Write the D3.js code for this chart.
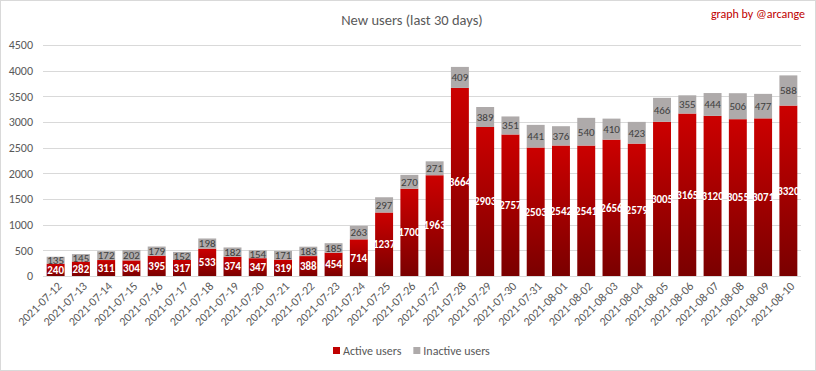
<!DOCTYPE html>
<html>
<head>
<meta charset="utf-8">
<script src="https://cdn.jsdelivr.net/npm/d3@7"></script>
<style>
  body { margin: 0; background: #fff; }
  svg { font-family: Calibri, Carlito, Lato, "Open Sans", sans-serif; }
</style>
</head>
<body>
<svg width="816" height="371"></svg>
<script>
const dates = ["2021-07-12","2021-07-13","2021-07-14","2021-07-15","2021-07-16","2021-07-17","2021-07-18",
  "2021-07-19","2021-07-20","2021-07-21","2021-07-22","2021-07-23","2021-07-24","2021-07-25","2021-07-26",
  "2021-07-27","2021-07-28","2021-07-29","2021-07-30","2021-07-31","2021-08-01","2021-08-02","2021-08-03",
  "2021-08-04","2021-08-05","2021-08-06","2021-08-07","2021-08-08","2021-08-09","2021-08-10"];
const active = [240,282,311,304,395,317,533,374,347,319,388,454,714,1237,1700,1963,3664,2903,2757,2503,
  2542,2541,2656,2579,3005,3165,3120,3055,3071,3320];
const inactive = [135,145,172,202,179,152,198,182,154,171,183,185,263,297,270,271,409,389,351,441,
  376,540,410,423,466,355,444,506,477,588];
const yTicks = [0,500,1000,1500,2000,2500,3000,3500,4000,4500];

const svg = d3.select("svg");
const W = 816, H = 371;
const m = { left: 43, right: 15, top: 45, bottom: 95 };

// cadre
svg.append("rect").attr("x", 0.5).attr("y", 0.5).attr("width", W - 1).attr("height", H - 1)
  .attr("fill", "#fff").attr("stroke", "#d9d9d9");

// dégradé des barres actives
const grad = svg.append("defs").append("linearGradient")
  .attr("id", "red").attr("x1", 0).attr("y1", 0).attr("x2", 0).attr("y2", 1);
grad.append("stop").attr("offset", "0%").attr("stop-color", "#cc0000");
grad.append("stop").attr("offset", "100%").attr("stop-color", "#7a0000");

const x = d3.scaleBand().domain(dates).range([m.left, W - m.right]).paddingInner(0.29).paddingOuter(0.145);
const y = d3.scaleLinear().domain([0, 4500]).range([H - m.bottom, m.top]);

// grille
svg.append("g").selectAll("line").data(yTicks).join("line")
  .attr("x1", m.left).attr("x2", W - m.right)
  .attr("y1", d => Math.round(y(d)) + 0.5).attr("y2", d => Math.round(y(d)) + 0.5)
  .attr("stroke", "#d9d9d9");

// axe Y
svg.append("g").selectAll("text").data(yTicks).join("text")
  .attr("x", 33).attr("y", d => y(d)).attr("dy", "0.35em")
  .attr("text-anchor", "end").attr("font-size", 12).attr("fill", "#595959")
  .text(d => d);

const data = dates.map((d, i) => ({ date: d, a: active[i], n: inactive[i] }));

// barres
svg.append("g").selectAll("rect").data(data).join("rect")
  .attr("x", d => x(d.date)).attr("width", x.bandwidth())
  .attr("y", d => y(d.a)).attr("height", d => y(0) - y(d.a))
  .attr("fill", "url(#red)");
svg.append("g").selectAll("rect").data(data).join("rect")
  .attr("x", d => x(d.date)).attr("width", x.bandwidth())
  .attr("y", d => y(d.a + d.n)).attr("height", d => y(d.a) - y(d.a + d.n))
  .attr("fill", "#aeaaaa");

// étiquettes
svg.append("g").selectAll("text").data(data).join("text")
  .attr("x", d => x(d.date) + x.bandwidth() / 2)
  .attr("y", d => (y(0) + y(d.a)) / 2).attr("dy", "0.35em")
  .attr("text-anchor", "middle").attr("font-size", 11).attr("font-weight", "bold")
  .attr("fill", "#fff").text(d => d.a);
svg.append("g").selectAll("text").data(data).join("text")
  .attr("x", d => x(d.date) + x.bandwidth() / 2)
  .attr("y", d => (y(d.a) + y(d.a + d.n)) / 2).attr("dy", "0.35em")
  .attr("text-anchor", "middle").attr("font-size", 11)
  .attr("fill", "#404040").text(d => d.n);

// axe X
svg.append("line").attr("x1", m.left).attr("x2", W - m.right)
  .attr("y1", Math.round(y(0)) + 0.5).attr("y2", Math.round(y(0)) + 0.5).attr("stroke", "#d9d9d9");
svg.append("g").selectAll("text").data(dates).join("text")
  .attr("transform", d => `translate(${x(d) + x.bandwidth() / 2 + 4},${y(0) + 8}) rotate(-45)`)
  .attr("text-anchor", "end").attr("dy", "0.35em").attr("font-size", 12).attr("fill", "#595959")
  .text(d => d);

// titres
svg.append("text").attr("x", 412).attr("y", 25).attr("text-anchor", "middle")
  .attr("font-size", 14.5).attr("fill", "#595959").text("New users (last 30 days)");
svg.append("text").attr("x", 805).attr("y", 18).attr("text-anchor", "end")
  .attr("font-size", 12).attr("fill", "#c00000").text("graph by @arcange");

// légende
const legend = [{ name: "Active users", color: "#c00000" }, { name: "Inactive users", color: "#aeaaaa" }];
const lg = svg.append("g").attr("transform", "translate(333,351)");
let lx = 0;
legend.forEach(l => {
  lg.append("rect").attr("x", lx).attr("y", -4).attr("width", 7).attr("height", 7).attr("fill", l.color);
  const t = lg.append("text").attr("x", lx + 10).attr("y", 0).attr("dy", "0.35em")
    .attr("font-size", 12).attr("fill", "#595959").text(l.name);
  lx += 10 + t.node().getComputedTextLength() + 12;
});
</script>
</body>
</html>
